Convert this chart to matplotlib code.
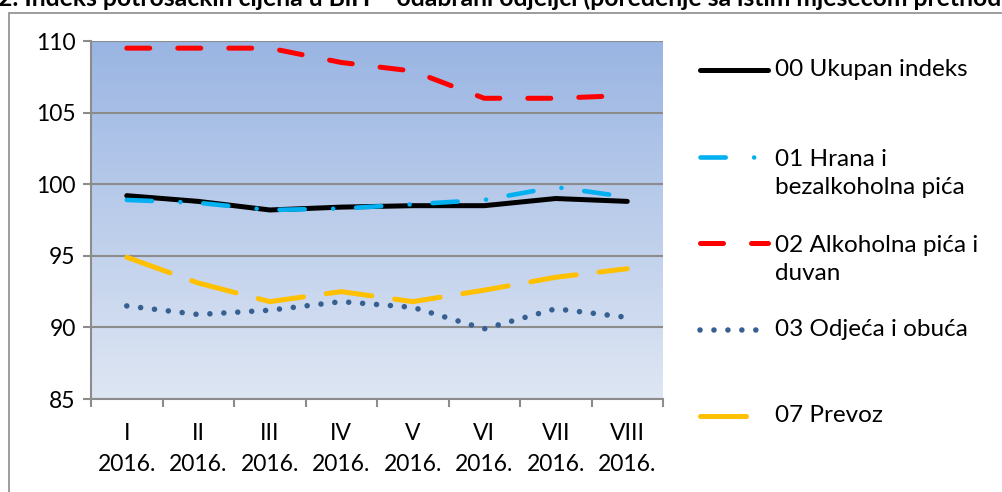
import numpy as np
import matplotlib
matplotlib.use('Agg')
import matplotlib.pyplot as plt
from matplotlib.lines import Line2D
from matplotlib.patches import Rectangle

# values
months = ['I\n2016.', 'II\n2016.', 'III\n2016.', 'IV\n2016.',
          'V\n2016.', 'VI\n2016.', 'VII\n2016.', 'VIII\n2016.']
ukupan = [99.2, 98.8, 98.2, 98.4, 98.5, 98.5, 99.0, 98.8]
hrana = [98.9, 98.7, 98.2, 98.3, 98.6, 98.9, 99.8, 99.1]
alkohol = [109.5, 109.5, 109.5, 108.5, 107.9, 106.0, 106.0, 106.2]
odjeca = [91.5, 90.9, 91.2, 91.8, 91.4, 89.9, 91.3, 90.7]
prevoz = [94.9, 93.1, 91.8, 92.5, 91.8, 92.6, 93.5, 94.1]

labels = ['00 Ukupan indeks', '01 Hrana i\nbezalkoholna pića',
          '02 Alkoholna pića i\nduvan', '03 Odjeća i obuća', '07 Prevoz']

plt.rcParams['font.family'] = ['Lato', 'DejaVu Sans']

W, H = 1002, 492
fig = plt.figure(figsize=(W / 100, H / 100), dpi=100)

def fx(px):
    return px / W

def fy(py):
    return 1 - py / H

ax = fig.add_axes([fx(91), fy(399), fx(663) - fx(91), fy(41) - fy(399)])

# gradient background of plot area
top = np.array([154, 181, 227]) / 255
bot = np.array([222, 230, 243]) / 255
t = np.linspace(0, 1, 256)[:, None]
grad = (top * (1 - t) + bot * t)[:, None, :].repeat(2, axis=1)
ax.imshow(grad, extent=[0, 1, 0, 1], transform=ax.transAxes,
          aspect='auto', zorder=0)

x = np.arange(len(months))
lw = 3.6
series = [
    (ukupan, dict(color='black', lw=lw, ls='-', solid_capstyle='round')),
    (hrana, dict(color='#00B0F0', lw=3.3, dashes=(5.5, 6.2, 0.01, 5.0),
                 dash_capstyle='round')),
    (alkohol, dict(color='#FF0000', lw=lw, dashes=(4.6, 5.6),
                   dash_capstyle='round')),
    (odjeca, dict(color='#376092', lw=4.0, dashes=(0.01, 2.5),
                  dash_capstyle='round')),
    (prevoz, dict(color='#FFC000', lw=lw, dashes=(9.2, 4.6),
                  dash_capstyle='round')),
]
for vals, st in series:
    ax.plot(x, vals, zorder=3, **st)

ax.set_xlim(-0.5, len(months) - 0.5)
ax.set_ylim(85, 110)
ax.set_yticks([85, 90, 95, 100, 105, 110])
ax.yaxis.grid(True, color='#8c8c8c', lw=1.5, zorder=1)
ax.set_axisbelow(False)
for sp in ['top', 'right']:
    ax.spines[sp].set_visible(False)
for sp in ['left', 'bottom']:
    ax.spines[sp].set_color('#8c8c8c')
    ax.spines[sp].set_linewidth(1.5)

ax.set_xticks(x)
ax.set_xticklabels(months, fontsize=16.5, linespacing=1.6)
ax.set_xticks(np.arange(-0.5, len(months)), minor=True)
ax.tick_params(axis='x', which='major', length=0, pad=17)
ax.tick_params(axis='x', which='minor', length=6, width=1.5,
               color='#8c8c8c')
ax.tick_params(axis='y', length=6, width=1.5, color='#8c8c8c',
               labelsize=16.5, pad=5)

# legend drawn by hand at the right
handle_y = [70, 157, 243, 330, 416]
for (vals, st), lab, hy in zip(series, labels, handle_y):
    ln = Line2D([fx(700), fx(768)], [fy(hy), fy(hy)],
                transform=fig.transFigure, **st)
    fig.add_artist(ln)
    ty = hy if '\n' not in lab else hy + 16.5
    fig.text(fx(775), fy(ty), lab, fontsize=17.5, va='center',
             linespacing=1.4)

# chart frame, cut off by the image edges
fig.add_artist(Rectangle((fx(9), -0.2), 1.2, fy(13) + 0.2,
                         transform=fig.transFigure, fill=False,
                         edgecolor='#8c8c8c', lw=1.2))

fig.text(-0.002, fy(6), '2. Indeks potrošačkih cijena u BiH – odabrani '
         'odjeljci (poređenje sa istim mjesecom prethodne godine)',
         fontsize=17.8, fontweight='bold', va='baseline')

fig.savefig('out.png', dpi=100)
